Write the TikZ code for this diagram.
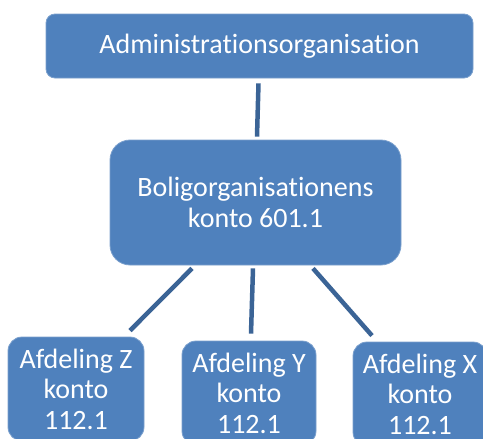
\documentclass[tikz,border=0pt]{standalone}
\usepackage{fontspec}
\setmainfont{Carlito}[Ligatures=NoCommon]
\usepackage{tikz}
\definecolor{boxblue}{HTML}{4F81BD}
\definecolor{linkblue}{HTML}{3B6496}
\tikzset{
  box/.style={rectangle, rounded corners=#1, fill=boxblue, draw=boxblue!75!white, line width=0.8pt,
    text=white, align=center, inner sep=0pt, font=\fontsize{28}{30.5}\selectfont},
  box/.default=14pt,
  link/.style={draw=linkblue, line width=4.5pt}
}

\begin{document}
\begin{tikzpicture}[x=1pt,y=-1pt]
\useasboundingbox (0,0) rectangle (483,439);
\clip (0,0) rectangle (483,439);
\node[box=9pt, minimum width=427pt, minimum height=64pt] (admin) at (259.5,46) {Administrationsorganisation};
\node[box=20pt, minimum width=291pt, minimum height=125pt] (bolig) at (255.5,202.5) {Boligorganisationens\\konto 601.1};
\node[box, minimum width=136pt, minimum height=104pt] (afdZ) at (76,389) {Afdeling Z\\konto\\112.1};
\node[box, minimum width=134pt, minimum height=104pt] (afdY) at (249,393) {Afdeling Y\\konto\\112.1};
\node[box, minimum width=134pt, minimum height=104pt] (afdX) at (420,394) {Afdeling X\\konto\\112.1};
\draw[link] ([xshift=-1pt,yshift=-5pt]admin.south) -- ([xshift=1.5pt,yshift=3pt]bolig.north);
\draw[link] ([xshift=-63.5pt,yshift=-3pt]bolig.south) -- ([xshift=54pt,yshift=6pt]afdZ.north);
\draw[link] ([xshift=-2.5pt,yshift=-3pt]bolig.south) -- ([xshift=2pt,yshift=7pt]afdY.north);
\draw[link] ([xshift=57.5pt,yshift=-3pt]bolig.south) -- ([xshift=-48pt,yshift=6pt]afdX.north);
\end{tikzpicture}
\end{document}
